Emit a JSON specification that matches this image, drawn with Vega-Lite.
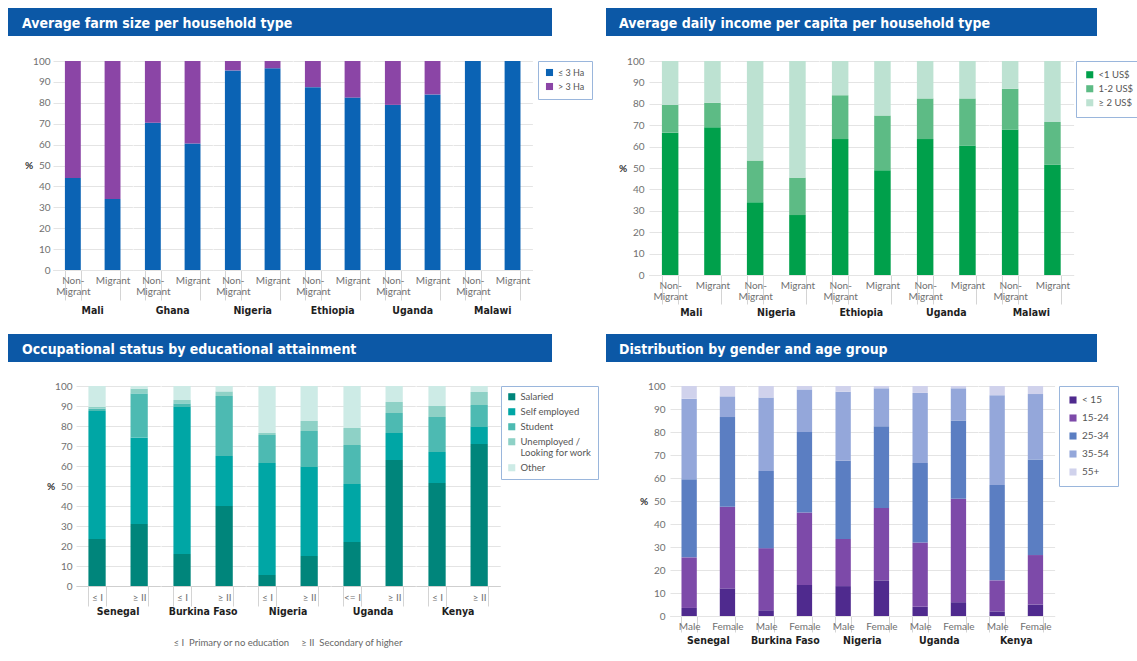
{
  "$schema": "https://vega.github.io/schema/vega-lite/v6.json",
  "background": "white",
  "padding": {"left": 8, "top": 8, "right": 0, "bottom": 0},
  "datasets": {
    "farm": [
      {"country": "Mali", "type": "Non-Migrant", "size": "≤ 3 Ha", "pct": 44},
      {"country": "Mali", "type": "Non-Migrant", "size": "> 3 Ha", "pct": 56},
      {"country": "Mali", "type": "Migrant", "size": "≤ 3 Ha", "pct": 34},
      {"country": "Mali", "type": "Migrant", "size": "> 3 Ha", "pct": 66},
      {"country": "Ghana", "type": "Non-Migrant", "size": "≤ 3 Ha", "pct": 70.5},
      {"country": "Ghana", "type": "Non-Migrant", "size": "> 3 Ha", "pct": 29.5},
      {"country": "Ghana", "type": "Migrant", "size": "≤ 3 Ha", "pct": 60.5},
      {"country": "Ghana", "type": "Migrant", "size": "> 3 Ha", "pct": 39.5},
      {"country": "Nigeria", "type": "Non-Migrant", "size": "≤ 3 Ha", "pct": 95.5},
      {"country": "Nigeria", "type": "Non-Migrant", "size": "> 3 Ha", "pct": 4.5},
      {"country": "Nigeria", "type": "Migrant", "size": "≤ 3 Ha", "pct": 96.5},
      {"country": "Nigeria", "type": "Migrant", "size": "> 3 Ha", "pct": 3.5},
      {"country": "Ethiopia", "type": "Non-Migrant", "size": "≤ 3 Ha", "pct": 87.5},
      {"country": "Ethiopia", "type": "Non-Migrant", "size": "> 3 Ha", "pct": 12.5},
      {"country": "Ethiopia", "type": "Migrant", "size": "≤ 3 Ha", "pct": 82.5},
      {"country": "Ethiopia", "type": "Migrant", "size": "> 3 Ha", "pct": 17.5},
      {"country": "Uganda", "type": "Non-Migrant", "size": "≤ 3 Ha", "pct": 79},
      {"country": "Uganda", "type": "Non-Migrant", "size": "> 3 Ha", "pct": 21},
      {"country": "Uganda", "type": "Migrant", "size": "≤ 3 Ha", "pct": 84},
      {"country": "Uganda", "type": "Migrant", "size": "> 3 Ha", "pct": 16},
      {"country": "Malawi", "type": "Non-Migrant", "size": "≤ 3 Ha", "pct": 100},
      {"country": "Malawi", "type": "Non-Migrant", "size": "> 3 Ha", "pct": 0},
      {"country": "Malawi", "type": "Migrant", "size": "≤ 3 Ha", "pct": 100},
      {"country": "Malawi", "type": "Migrant", "size": "> 3 Ha", "pct": 0}
    ],
    "income": [
      {"country": "Mali", "type": "Non-Migrant", "income": "<1 US$", "pct": 66.5},
      {"country": "Mali", "type": "Non-Migrant", "income": "1-2 US$", "pct": 13},
      {"country": "Mali", "type": "Non-Migrant", "income": "≥ 2 US$", "pct": 20.5},
      {"country": "Mali", "type": "Migrant", "income": "<1 US$", "pct": 69},
      {"country": "Mali", "type": "Migrant", "income": "1-2 US$", "pct": 11.5},
      {"country": "Mali", "type": "Migrant", "income": "≥ 2 US$", "pct": 19.5},
      {"country": "Nigeria", "type": "Non-Migrant", "income": "<1 US$", "pct": 34},
      {"country": "Nigeria", "type": "Non-Migrant", "income": "1-2 US$", "pct": 19.5},
      {"country": "Nigeria", "type": "Non-Migrant", "income": "≥ 2 US$", "pct": 46.5},
      {"country": "Nigeria", "type": "Migrant", "income": "<1 US$", "pct": 28},
      {"country": "Nigeria", "type": "Migrant", "income": "1-2 US$", "pct": 17.5},
      {"country": "Nigeria", "type": "Migrant", "income": "≥ 2 US$", "pct": 54.5},
      {"country": "Ethiopia", "type": "Non-Migrant", "income": "<1 US$", "pct": 63.5},
      {"country": "Ethiopia", "type": "Non-Migrant", "income": "1-2 US$", "pct": 20.5},
      {"country": "Ethiopia", "type": "Non-Migrant", "income": "≥ 2 US$", "pct": 16},
      {"country": "Ethiopia", "type": "Migrant", "income": "<1 US$", "pct": 49},
      {"country": "Ethiopia", "type": "Migrant", "income": "1-2 US$", "pct": 25.5},
      {"country": "Ethiopia", "type": "Migrant", "income": "≥ 2 US$", "pct": 25.5},
      {"country": "Uganda", "type": "Non-Migrant", "income": "<1 US$", "pct": 63.5},
      {"country": "Uganda", "type": "Non-Migrant", "income": "1-2 US$", "pct": 19},
      {"country": "Uganda", "type": "Non-Migrant", "income": "≥ 2 US$", "pct": 17.5},
      {"country": "Uganda", "type": "Migrant", "income": "<1 US$", "pct": 60.5},
      {"country": "Uganda", "type": "Migrant", "income": "1-2 US$", "pct": 22},
      {"country": "Uganda", "type": "Migrant", "income": "≥ 2 US$", "pct": 17.5},
      {"country": "Malawi", "type": "Non-Migrant", "income": "<1 US$", "pct": 68},
      {"country": "Malawi", "type": "Non-Migrant", "income": "1-2 US$", "pct": 19},
      {"country": "Malawi", "type": "Non-Migrant", "income": "≥ 2 US$", "pct": 13},
      {"country": "Malawi", "type": "Migrant", "income": "<1 US$", "pct": 51.5},
      {"country": "Malawi", "type": "Migrant", "income": "1-2 US$", "pct": 20},
      {"country": "Malawi", "type": "Migrant", "income": "≥ 2 US$", "pct": 28.5}
    ],
    "occ": [
      {"country": "Senegal", "edu": "≤ I", "status": "Salaried", "pct": 23.5},
      {"country": "Senegal", "edu": "≤ I", "status": "Self employed", "pct": 64},
      {"country": "Senegal", "edu": "≤ I", "status": "Student", "pct": 1.2},
      {"country": "Senegal", "edu": "≤ I", "status": "Unemployed / Looking for work", "pct": 0.8},
      {"country": "Senegal", "edu": "≤ I", "status": "Other", "pct": 10.5},
      {"country": "Senegal", "edu": "≥ II", "status": "Salaried", "pct": 31},
      {"country": "Senegal", "edu": "≥ II", "status": "Self employed", "pct": 43.3},
      {"country": "Senegal", "edu": "≥ II", "status": "Student", "pct": 22},
      {"country": "Senegal", "edu": "≥ II", "status": "Unemployed / Looking for work", "pct": 2.4},
      {"country": "Senegal", "edu": "≥ II", "status": "Other", "pct": 1.3},
      {"country": "Burkina Faso", "edu": "≤ I", "status": "Salaried", "pct": 16},
      {"country": "Burkina Faso", "edu": "≤ I", "status": "Self employed", "pct": 73.5},
      {"country": "Burkina Faso", "edu": "≤ I", "status": "Student", "pct": 1.8},
      {"country": "Burkina Faso", "edu": "≤ I", "status": "Unemployed / Looking for work", "pct": 1.7},
      {"country": "Burkina Faso", "edu": "≤ I", "status": "Other", "pct": 7},
      {"country": "Burkina Faso", "edu": "≥ II", "status": "Salaried", "pct": 40},
      {"country": "Burkina Faso", "edu": "≥ II", "status": "Self employed", "pct": 25},
      {"country": "Burkina Faso", "edu": "≥ II", "status": "Student", "pct": 30},
      {"country": "Burkina Faso", "edu": "≥ II", "status": "Unemployed / Looking for work", "pct": 2.3},
      {"country": "Burkina Faso", "edu": "≥ II", "status": "Other", "pct": 2.7},
      {"country": "Nigeria", "edu": "≤ I", "status": "Salaried", "pct": 5.5},
      {"country": "Nigeria", "edu": "≤ I", "status": "Self employed", "pct": 56},
      {"country": "Nigeria", "edu": "≤ I", "status": "Student", "pct": 14},
      {"country": "Nigeria", "edu": "≤ I", "status": "Unemployed / Looking for work", "pct": 1},
      {"country": "Nigeria", "edu": "≤ I", "status": "Other", "pct": 23.5},
      {"country": "Nigeria", "edu": "≥ II", "status": "Salaried", "pct": 15},
      {"country": "Nigeria", "edu": "≥ II", "status": "Self employed", "pct": 44.5},
      {"country": "Nigeria", "edu": "≥ II", "status": "Student", "pct": 18},
      {"country": "Nigeria", "edu": "≥ II", "status": "Unemployed / Looking for work", "pct": 5},
      {"country": "Nigeria", "edu": "≥ II", "status": "Other", "pct": 17.5},
      {"country": "Uganda", "edu": "<= I", "status": "Salaried", "pct": 22},
      {"country": "Uganda", "edu": "<= I", "status": "Self employed", "pct": 29},
      {"country": "Uganda", "edu": "<= I", "status": "Student", "pct": 19.5},
      {"country": "Uganda", "edu": "<= I", "status": "Unemployed / Looking for work", "pct": 8.5},
      {"country": "Uganda", "edu": "<= I", "status": "Other", "pct": 21},
      {"country": "Uganda", "edu": "≥ II", "status": "Salaried", "pct": 63},
      {"country": "Uganda", "edu": "≥ II", "status": "Self employed", "pct": 13.5},
      {"country": "Uganda", "edu": "≥ II", "status": "Student", "pct": 10},
      {"country": "Uganda", "edu": "≥ II", "status": "Unemployed / Looking for work", "pct": 5.5},
      {"country": "Uganda", "edu": "≥ II", "status": "Other", "pct": 8},
      {"country": "Kenya", "edu": "≤ I", "status": "Salaried", "pct": 51.5},
      {"country": "Kenya", "edu": "≤ I", "status": "Self employed", "pct": 15.5},
      {"country": "Kenya", "edu": "≤ I", "status": "Student", "pct": 17.5},
      {"country": "Kenya", "edu": "≤ I", "status": "Unemployed / Looking for work", "pct": 5.5},
      {"country": "Kenya", "edu": "≤ I", "status": "Other", "pct": 10},
      {"country": "Kenya", "edu": "≥ II", "status": "Salaried", "pct": 71},
      {"country": "Kenya", "edu": "≥ II", "status": "Self employed", "pct": 8.5},
      {"country": "Kenya", "edu": "≥ II", "status": "Student", "pct": 11},
      {"country": "Kenya", "edu": "≥ II", "status": "Unemployed / Looking for work", "pct": 6.5},
      {"country": "Kenya", "edu": "≥ II", "status": "Other", "pct": 3}
    ],
    "age": [
      {"country": "Senegal", "gender": "Male", "age": "< 15", "pct": 3.5},
      {"country": "Senegal", "gender": "Male", "age": "15-24", "pct": 22},
      {"country": "Senegal", "gender": "Male", "age": "25-34", "pct": 34},
      {"country": "Senegal", "gender": "Male", "age": "35-54", "pct": 35},
      {"country": "Senegal", "gender": "Male", "age": "55+", "pct": 5.5},
      {"country": "Senegal", "gender": "Female", "age": "< 15", "pct": 12},
      {"country": "Senegal", "gender": "Female", "age": "15-24", "pct": 35.5},
      {"country": "Senegal", "gender": "Female", "age": "25-34", "pct": 39},
      {"country": "Senegal", "gender": "Female", "age": "35-54", "pct": 9},
      {"country": "Senegal", "gender": "Female", "age": "55+", "pct": 4.5},
      {"country": "Burkina Faso", "gender": "Male", "age": "< 15", "pct": 2.5},
      {"country": "Burkina Faso", "gender": "Male", "age": "15-24", "pct": 27},
      {"country": "Burkina Faso", "gender": "Male", "age": "25-34", "pct": 33.5},
      {"country": "Burkina Faso", "gender": "Male", "age": "35-54", "pct": 32},
      {"country": "Burkina Faso", "gender": "Male", "age": "55+", "pct": 5},
      {"country": "Burkina Faso", "gender": "Female", "age": "< 15", "pct": 13.5},
      {"country": "Burkina Faso", "gender": "Female", "age": "15-24", "pct": 31.5},
      {"country": "Burkina Faso", "gender": "Female", "age": "25-34", "pct": 35},
      {"country": "Burkina Faso", "gender": "Female", "age": "35-54", "pct": 18.5},
      {"country": "Burkina Faso", "gender": "Female", "age": "55+", "pct": 1.5},
      {"country": "Nigeria", "gender": "Male", "age": "< 15", "pct": 13},
      {"country": "Nigeria", "gender": "Male", "age": "15-24", "pct": 20.5},
      {"country": "Nigeria", "gender": "Male", "age": "25-34", "pct": 34},
      {"country": "Nigeria", "gender": "Male", "age": "35-54", "pct": 30},
      {"country": "Nigeria", "gender": "Male", "age": "55+", "pct": 2.5},
      {"country": "Nigeria", "gender": "Female", "age": "< 15", "pct": 15.5},
      {"country": "Nigeria", "gender": "Female", "age": "15-24", "pct": 31.5},
      {"country": "Nigeria", "gender": "Female", "age": "25-34", "pct": 35.5},
      {"country": "Nigeria", "gender": "Female", "age": "35-54", "pct": 16.5},
      {"country": "Nigeria", "gender": "Female", "age": "55+", "pct": 1},
      {"country": "Uganda", "gender": "Male", "age": "< 15", "pct": 4},
      {"country": "Uganda", "gender": "Male", "age": "15-24", "pct": 28},
      {"country": "Uganda", "gender": "Male", "age": "25-34", "pct": 34.5},
      {"country": "Uganda", "gender": "Male", "age": "35-54", "pct": 30.5},
      {"country": "Uganda", "gender": "Male", "age": "55+", "pct": 3},
      {"country": "Uganda", "gender": "Female", "age": "< 15", "pct": 6},
      {"country": "Uganda", "gender": "Female", "age": "15-24", "pct": 45},
      {"country": "Uganda", "gender": "Female", "age": "25-34", "pct": 34},
      {"country": "Uganda", "gender": "Female", "age": "35-54", "pct": 14},
      {"country": "Uganda", "gender": "Female", "age": "55+", "pct": 1},
      {"country": "Kenya", "gender": "Male", "age": "< 15", "pct": 2},
      {"country": "Kenya", "gender": "Male", "age": "15-24", "pct": 13.5},
      {"country": "Kenya", "gender": "Male", "age": "25-34", "pct": 41.5},
      {"country": "Kenya", "gender": "Male", "age": "35-54", "pct": 39},
      {"country": "Kenya", "gender": "Male", "age": "55+", "pct": 4},
      {"country": "Kenya", "gender": "Female", "age": "< 15", "pct": 5},
      {"country": "Kenya", "gender": "Female", "age": "15-24", "pct": 21.5},
      {"country": "Kenya", "gender": "Female", "age": "25-34", "pct": 41.5},
      {"country": "Kenya", "gender": "Female", "age": "35-54", "pct": 28.5},
      {"country": "Kenya", "gender": "Female", "age": "55+", "pct": 3.5}
    ]
  },
  "spacing": 16,
  "resolve": {"scale": {"color": "independent"}, "legend": {"color": "independent"}},
  "vconcat": [
    {
      "spacing": 20,
      "resolve": {"scale": {"color": "independent"}, "legend": {"color": "independent"}},
      "vconcat": [
        {
          "spacing": 54,
          "hconcat": [
            {"width": 544, "height": 28, "data": {"values": [{}]}, "mark": {"type": "rect", "color": "#0c58a6"}, "encoding": {}, "view": {"fill": "#0c58a6", "stroke": null},
             "title": {"text": "Average farm size per household type", "anchor": "start", "offset": -30, "baseline": "middle", "dx": 14, "color": "white", "font": "Liberation Sans Narrow, Arial Narrow, DejaVu Sans Condensed, Liberation Sans, sans-serif", "fontSize": 14, "fontWeight": "bold"}},
            {"width": 491, "height": 28, "data": {"values": [{}]}, "mark": {"type": "rect", "color": "#0c58a6"}, "encoding": {}, "view": {"fill": "#0c58a6", "stroke": null},
             "title": {"text": "Average daily income per capita per household type", "anchor": "start", "offset": -30, "baseline": "middle", "dx": 13, "color": "white", "font": "Liberation Sans Narrow, Arial Narrow, DejaVu Sans Condensed, Liberation Sans, sans-serif", "fontSize": 14, "fontWeight": "bold"}}
          ]
        },
        {
          "spacing": 0,
          "resolve": {"scale": {"color": "independent"}, "legend": {"color": "independent"}},
          "hconcat": [
            {"width": 16, "height": 10, "data": {"values": []}, "mark": "point"},
            {
              "spacing": 25,
              "resolve": {"scale": {"color": "independent"}, "legend": {"color": "independent"}},
              "hconcat": [
                {
                  "data": {"name": "farm"},
                  "transform": [{"calculate": "indexof(['≤ 3 Ha', '> 3 Ha'], datum.size)", "as": "stackRank"}],
                  "facet": {"column": {"field": "country", "type": "nominal", "sort": ["Mali", "Ghana", "Nigeria", "Ethiopia", "Uganda", "Malawi"], "header": {"title": null, "labelOrient": "bottom", "labelPadding": 5}}},
                  "spacing": 0,
                  "spec": {
                    "width": 79.4, "height": 209,
                    "mark": {"type": "bar"},
                    "encoding": {
                      "x": {"field": "type", "type": "nominal", "sort": ["Non-Migrant", "Migrant"], "title": null,
                            "scale": {"paddingInner": 0.6, "paddingOuter": 0.3},
                            "axis": {"labelExpr": "datum.value == 'Non-Migrant' ? ['Non-', 'Migrant'] : datum.value", "tickSize": 30, "labelPadding": -25}},
                      "y": {"field": "pct", "type": "quantitative", "stack": "zero", "scale": {"domain": [0, 100]},
                            "axis": {"title": "%", "values": [0, 10, 20, 30, 40, 50, 60, 70, 80, 90, 100], "labelPadding": 3, "titlePadding": 0}},
                      "color": {"field": "size", "type": "nominal",
                                "scale": {"domain": ["≤ 3 Ha", "> 3 Ha"], "range": ["#0b63b4", "#8b45a6"]},
                                "legend": {"title": null, "orient": "right", "offset": 5, "padding": 7, "rowPadding": 4, "symbolSize": 50, "labelFontSize": 9}},
                      "order": {"field": "stackRank", "type": "quantitative"}
                    }
                  }
                },
                {
                  "data": {"name": "income"},
                  "transform": [{"calculate": "indexof(['<1 US$', '1-2 US$', '≥ 2 US$'], datum.income)", "as": "stackRank"}],
                  "facet": {"column": {"field": "country", "type": "nominal", "sort": ["Mali", "Nigeria", "Ethiopia", "Uganda", "Malawi"], "header": {"title": null, "labelOrient": "bottom", "labelPadding": 3}}},
                  "spacing": 0,
                  "spec": {
                    "width": 84.6, "height": 214,
                    "mark": {"type": "bar"},
                    "encoding": {
                      "x": {"field": "type", "type": "nominal", "sort": ["Non-Migrant", "Migrant"], "title": null,
                            "scale": {"paddingInner": 0.61, "paddingOuter": 0.305},
                            "axis": {"labelExpr": "datum.value == 'Non-Migrant' ? ['Non-', 'Migrant'] : datum.value", "tickSize": 29, "labelPadding": -24}},
                      "y": {"field": "pct", "type": "quantitative", "stack": "zero", "scale": {"domain": [0, 100]},
                            "axis": {"title": "%", "values": [0, 10, 20, 30, 40, 50, 60, 70, 80, 90, 100], "labelPadding": 5, "titlePadding": 0}},
                      "color": {"field": "income", "type": "nominal",
                                "scale": {"domain": ["<1 US$", "1-2 US$", "≥ 2 US$"], "range": ["#00a04b", "#5dbb85", "#bde2d2"]},
                                "legend": {"title": null, "orient": "right", "offset": 2, "padding": 9, "rowPadding": 3, "symbolSize": 50, "labelFontSize": 9.5}},
                      "order": {"field": "stackRank", "type": "quantitative"}
                    }
                  }
                }
              ]
            }
          ]
        }
      ]
    },
    {
      "spacing": 19,
      "resolve": {"scale": {"color": "independent"}, "legend": {"color": "independent"}},
      "vconcat": [
        {
          "spacing": 54,
          "hconcat": [
            {"width": 544, "height": 28, "data": {"values": [{}]}, "mark": {"type": "rect", "color": "#0c58a6"}, "encoding": {}, "view": {"fill": "#0c58a6", "stroke": null},
             "title": {"text": "Occupational status by educational attainment", "anchor": "start", "offset": -30, "baseline": "middle", "dx": 14, "color": "white", "font": "Liberation Sans Narrow, Arial Narrow, DejaVu Sans Condensed, Liberation Sans, sans-serif", "fontSize": 14, "fontWeight": "bold"}},
            {"width": 491, "height": 28, "data": {"values": [{}]}, "mark": {"type": "rect", "color": "#0c58a6"}, "encoding": {}, "view": {"fill": "#0c58a6", "stroke": null},
             "title": {"text": "Distribution by gender and age group", "anchor": "start", "offset": -30, "baseline": "middle", "dx": 13, "color": "white", "font": "Liberation Sans Narrow, Arial Narrow, DejaVu Sans Condensed, Liberation Sans, sans-serif", "fontSize": 14, "fontWeight": "bold"}}
          ]
        },
        {
          "spacing": 0,
          "resolve": {"scale": {"color": "independent"}, "legend": {"color": "independent"}},
          "hconcat": [
            {"width": 38, "height": 10, "data": {"values": []}, "mark": "point"},
            {
              "spacing": 40,
              "resolve": {"scale": {"color": "independent"}, "legend": {"color": "independent"}},
              "hconcat": [
                {
                  "data": {"name": "occ"},
                  "transform": [{"calculate": "indexof(['Salaried', 'Self employed', 'Student', 'Unemployed / Looking for work', 'Other'], datum.status)", "as": "stackRank"}],
                  "facet": {"column": {"field": "country", "type": "nominal", "sort": ["Senegal", "Burkina Faso", "Nigeria", "Uganda", "Kenya"],
                            "header": {"title": "≤ I\u00a0\u00a0Primary or no education\u00a0\u00a0\u00a0\u00a0\u00a0≥ II\u00a0\u00a0Secondary of higher", "titleOrient": "bottom", "titleFontSize": 9.5, "titleFontWeight": "normal", "titleColor": "#666", "titleFont": "Lato", "titlePadding": 10, "labelOrient": "bottom", "labelPadding": 0}}},
                  "spacing": 0,
                  "resolve": {"scale": {"x": "independent"}},
                  "spec": {
                    "width": 84.2, "height": 200,
                    "mark": {"type": "bar"},
                    "encoding": {
                      "x": {"field": "edu", "type": "nominal", "sort": ["≤ I", "<= I", "≥ II"], "title": null,
                            "scale": {"paddingInner": 0.59, "paddingOuter": 0.295},
                            "axis": {"tickSize": 20, "labelPadding": -14}},
                      "y": {"field": "pct", "type": "quantitative", "stack": "zero", "scale": {"domain": [0, 100]},
                            "axis": {"title": "%", "values": [0, 10, 20, 30, 40, 50, 60, 70, 80, 90, 100], "labelPadding": 4, "titlePadding": 0}},
                      "color": {"field": "status", "type": "nominal",
                                "scale": {"domain": ["Salaried", "Self employed", "Student", "Unemployed / Looking for work", "Other"], "range": ["#00857b", "#00a6a5", "#4dbab2", "#8ed1c6", "#cdebe6"]},
                                "legend": {"title": null, "orient": "right", "offset": 0, "padding": 6, "rowPadding": 4, "symbolSize": 50, "labelFontSize": 9.5,
                                           "labelExpr": "datum.label == 'Unemployed / Looking for work' ? ['Unemployed /', 'Looking for work'] : datum.label"}},
                      "order": {"field": "stackRank", "type": "quantitative"}
                    }
                  }
                },
                {
                  "data": {"name": "age"},
                  "transform": [{"calculate": "indexof(['< 15', '15-24', '25-34', '35-54', '55+'], datum.age)", "as": "stackRank"}],
                  "facet": {"column": {"field": "country", "type": "nominal", "sort": ["Senegal", "Burkina Faso", "Nigeria", "Uganda", "Kenya"], "header": {"title": null, "labelOrient": "bottom", "labelPadding": 3}}},
                  "spacing": 0,
                  "spec": {
                    "width": 76.6, "height": 230,
                    "mark": {"type": "bar"},
                    "encoding": {
                      "x": {"field": "gender", "type": "nominal", "sort": ["Male", "Female"], "title": null,
                            "scale": {"paddingInner": 0.6, "paddingOuter": 0.3},
                            "axis": {"tickSize": 16, "labelPadding": -11}},
                      "y": {"field": "pct", "type": "quantitative", "stack": "zero", "scale": {"domain": [0, 100]},
                            "axis": {"title": "%", "values": [0, 10, 20, 30, 40, 50, 60, 70, 80, 90, 100], "labelPadding": 5, "titlePadding": 0}},
                      "color": {"field": "age", "type": "nominal",
                                "scale": {"domain": ["< 15", "15-24", "25-34", "35-54", "55+"], "range": ["#4f2a8e", "#7d4aa9", "#5b7ec2", "#94a7da", "#d0d2ec"]},
                                "legend": {"title": null, "orient": "right", "offset": 4, "padding": 9, "rowPadding": 8, "symbolSize": 50, "labelFontSize": 10}},
                      "order": {"field": "stackRank", "type": "quantitative"}
                    }
                  }
                }
              ]
            }
          ]
        }
      ]
    }
  ],
  "config": {
    "view": {"stroke": null},
    "font": "Lato",
    "axis": {"labelFont": "Lato", "labelFontSize": 10, "labelColor": "#707070", "titleFont": "Lato", "gridColor": "#e4e4e4", "domainColor": "#cfcfcf", "tickColor": "#d4d4d4", "labelAngle": 0},
    "axisX": {"grid": false, "tickBand": "extent", "labelLineHeight": 11, "labelBaseline": "top"},
    "axisY": {"domain": false, "ticks": false, "titleAngle": 0, "titleAlign": "right", "titleBaseline": "middle", "titleFontWeight": "bold", "titleFontSize": 10, "titleColor": "#333"},
    "header": {"labelFont": "Liberation Sans Narrow, Arial Narrow, DejaVu Sans Condensed, Liberation Sans, sans-serif", "labelFontWeight": "bold", "labelFontSize": 10.5, "labelColor": "#1e1e1e"},
    "legend": {"labelFont": "Lato", "labelColor": "#555", "symbolType": "square", "symbolStrokeWidth": 0, "strokeColor": "#9ab6dc", "fillColor": "white"}
  }
}
